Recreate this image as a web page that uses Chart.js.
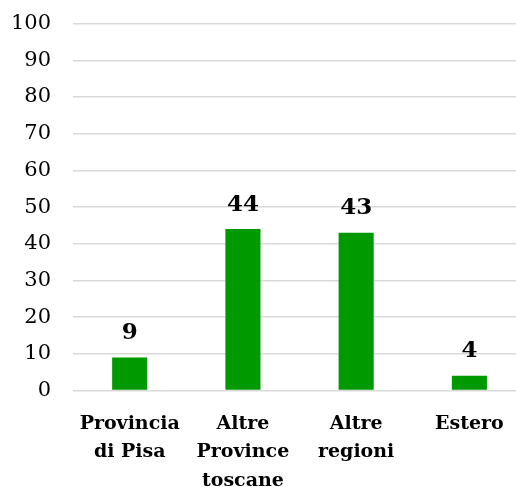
<!DOCTYPE html>
<html>
<head>
<meta charset="utf-8">
<script src="https://cdn.jsdelivr.net/npm/chart.js@4"></script>
<style>
  html, body { margin: 0; padding: 0; background: #fff; overflow: hidden; }
  .chartBox { width: 539px; height: 525px; margin-left: -13px; margin-top: -11px; }
</style>
</head>
<body>
<div class="chartBox"><canvas id="myChart"></canvas></div>
<script>
  const categories = [['Provincia', 'di Pisa'], ['Altre', 'Province', 'toscane'], ['Altre', 'regioni'], ['Estero']];
  const values = [9, 44, 43, 4];
  const yTicks = [0, 10, 20, 30, 40, 50, 60, 70, 80, 90, 100];

  // draws the value above each bar
  const valueLabels = {
    id: 'valueLabels',
    afterDatasetsDraw(chart) {
      const ctx = chart.ctx;
      const meta = chart.getDatasetMeta(0);
      ctx.save();
      ctx.font = 'bold 23px "DejaVu Serif"';
      ctx.fillStyle = '#000';
      ctx.textAlign = 'center';
      ctx.textBaseline = 'bottom';
      meta.data.forEach((bar, i) => {
        ctx.fillText(values[i], bar.x, bar.y - 13);
      });
      ctx.restore();
    }
  };

  const config = {
    type: 'bar',
    data: {
      labels: categories,
      datasets: [{
        data: values,
        backgroundColor: 'rgb(0, 153, 0)',
        borderColor: 'rgb(0, 153, 0)',
        borderWidth: 0,
        barPercentage: 0.62,
        categoryPercentage: 0.5
      }]
    },
    options: {
      responsive: true,
      maintainAspectRatio: false,
      animation: false,
      layout: { padding: { top: 2, left: 2, right: 0, bottom: 0 } },
      scales: {
        x: {
          grid: { display: false, drawTicks: false },
          border: { display: false },
          ticks: {
            color: '#000',
            padding: 19,
            maxRotation: 0,
            autoSkip: false,
            font: { family: 'DejaVu Serif', size: 19, weight: 'bold', lineHeight: 1.5 }
          }
        },
        y: {
          min: 0,
          max: 100,
          afterBuildTicks(axis) {
            axis.ticks = yTicks.map(v => ({ value: v }));
          },
          grid: { color: '#d9d9d9', lineWidth: 1.5, drawTicks: false },
          border: { display: false },
          ticks: {
            color: '#000',
            padding: 22,
            font: { family: 'DejaVu Serif', size: 21 }
          }
        }
      },
      plugins: {
        legend: { display: false },
        tooltip: { enabled: false }
      }
    },
    plugins: [valueLabels]
  };

  const myChart = new Chart(document.getElementById('myChart'), config);
</script>
</body>
</html>
